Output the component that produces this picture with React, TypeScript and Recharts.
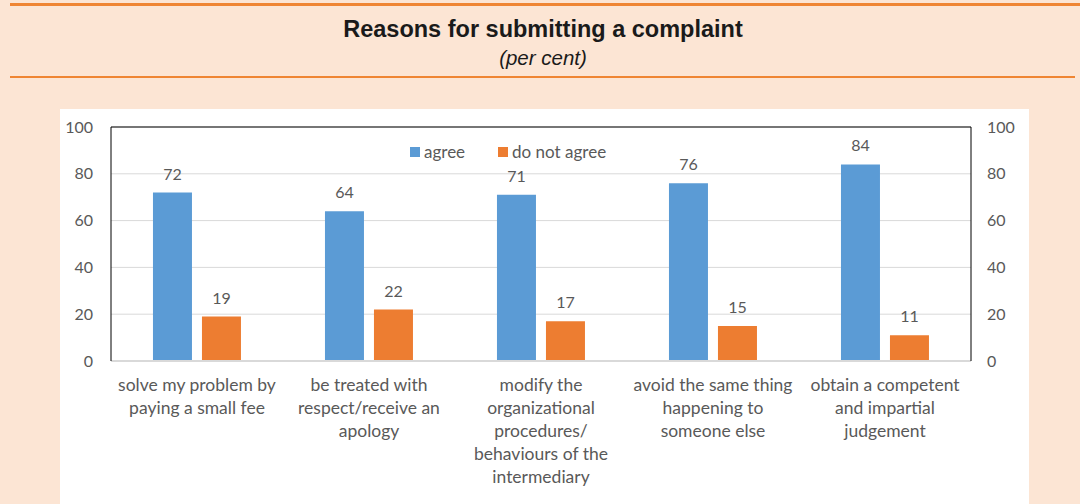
import React from 'react';
import {
  ComposedChart,
  Bar,
  Line,
  XAxis,
  YAxis,
  CartesianGrid,
  ReferenceLine,
  LabelList,
  Legend,
} from 'recharts';

const categories = [
  'solve my problem by\npaying a small fee',
  'be treated with\nrespect/receive an\napology',
  'modify the\norganizational\nprocedures/\nbehaviours of the\nintermediary',
  'avoid the same thing\nhappening to\nsomeone else',
  'obtain a competent\nand impartial\njudgement',
];
const agree = [72, 64, 71, 76, 84];
const doNotAgree = [19, 22, 17, 15, 11];
const yTicks = [0, 20, 40, 60, 80, 100];

const data = categories.map((name, i) => ({
  name,
  agree: agree[i],
  doNotAgree: doNotAgree[i],
}));

const BLUE = '#5B9BD5';
const ORANGE = '#ED7D31';
const TEXT = '#595959';
const FONT = 'Lato, "Open Sans", sans-serif';

const CategoryTick = ({ x, y, payload }: any) => {
  const lines = String(payload.value).split('\n');
  return (
    <text x={x} y={y} textAnchor="middle" fill={TEXT} fontSize={17.5} fontFamily={FONT}>
      {lines.map((line, i) => (
        <tspan key={i} x={x} dy={i === 0 ? 22 : 23}>
          {line}
        </tspan>
      ))}
    </text>
  );
};

const LegendContent = () => (
  <div style={{ display: 'flex', gap: 33, fontFamily: FONT, fontSize: 17, color: TEXT }}>
    <span style={{ display: 'flex', alignItems: 'center', gap: 4 }}>
      <span style={{ width: 10, height: 10, background: BLUE, display: 'inline-block' }} />
      agree
    </span>
    <span style={{ display: 'flex', alignItems: 'center', gap: 4 }}>
      <span style={{ width: 10, height: 10, background: ORANGE, display: 'inline-block' }} />
      do not agree
    </span>
  </div>
);

export default function App() {
  return (
    <div
      style={{
        position: 'absolute',
        left: 0,
        top: 0,
        width: 1080,
        height: 504,
        background: '#FCE5D4',
        overflow: 'hidden',
      }}
    >
      <div style={{ position: 'absolute', left: 10, right: 0, top: 3, height: 3, background: '#EF8533' }} />
      <div
        style={{
          position: 'absolute',
          left: 0,
          width: 1086,
          top: 16,
          textAlign: 'center',
          fontFamily: '"Liberation Sans", Arial, sans-serif',
          fontWeight: 700,
          fontSize: 23.5,
          color: '#1a1a1a',
        }}
      >
        Reasons for submitting a complaint
      </div>
      <div
        style={{
          position: 'absolute',
          left: 0,
          width: 1086,
          top: 46,
          textAlign: 'center',
          fontFamily: '"Liberation Sans", Arial, sans-serif',
          fontStyle: 'italic',
          fontSize: 20.5,
          color: '#1a1a1a',
        }}
      >
        (per cent)
      </div>
      <div style={{ position: 'absolute', left: 10, right: 5, top: 76, height: 2, background: '#EF8533' }} />
      <div
        style={{
          position: 'absolute',
          left: 60,
          top: 109,
          width: 969,
          height: 395,
          background: '#FFFFFF',
        }}
      >
        <ComposedChart
          width={969}
          height={395}
          data={data}
          margin={{ top: 18, right: 8, left: 0, bottom: 13 }}
          barCategoryGap="24.4%"
          barGap={10}
        >
          <CartesianGrid vertical={false} stroke="#D9D9D9" yAxisId="left" />
          <XAxis
            dataKey="name"
            interval={0}
            height={130}
            tickLine={false}
            axisLine={{ stroke: '#D9D9D9', strokeWidth: 2 }}
            tick={<CategoryTick />}
          />
          <YAxis
            yAxisId="left"
            domain={[0, 100]}
            ticks={yTicks}
            width={51}
            tickLine={false}
            tickSize={0}
            tickMargin={18}
            axisLine={{ stroke: '#000000' }}
            tick={{ fontSize: 16, fill: TEXT, fontFamily: FONT }}
          />
          <YAxis
            yAxisId="right"
            orientation="right"
            domain={[0, 100]}
            ticks={yTicks}
            width={50}
            tickLine={false}
            tickSize={0}
            tickMargin={16}
            axisLine={{ stroke: '#000000' }}
            tick={{ fontSize: 16, fill: TEXT, fontFamily: FONT, textAnchor: 'start' }}
          />
          <ReferenceLine yAxisId="left" y={100} stroke="#000000" />
          <Legend
            layout="horizontal"
            verticalAlign="middle"
            align="center"
            content={<LegendContent />}
            wrapperStyle={{ position: 'absolute', left: 350, top: 32, width: 'auto' }}
          />
          <Bar yAxisId="left" dataKey="agree" fill={BLUE} isAnimationActive={false}>
            <LabelList dataKey="agree" position="top" offset={13} fill={TEXT} fontSize={16} fontFamily={FONT} />
          </Bar>
          <Bar yAxisId="left" dataKey="doNotAgree" fill={ORANGE} isAnimationActive={false}>
            <LabelList dataKey="doNotAgree" position="top" offset={13} fill={TEXT} fontSize={16} fontFamily={FONT} />
          </Bar>
          <Line
            yAxisId="right"
            dataKey="agree"
            stroke="none"
            dot={false}
            activeDot={false}
            legendType="none"
            isAnimationActive={false}
          />
        </ComposedChart>
      </div>
    </div>
  );
}
